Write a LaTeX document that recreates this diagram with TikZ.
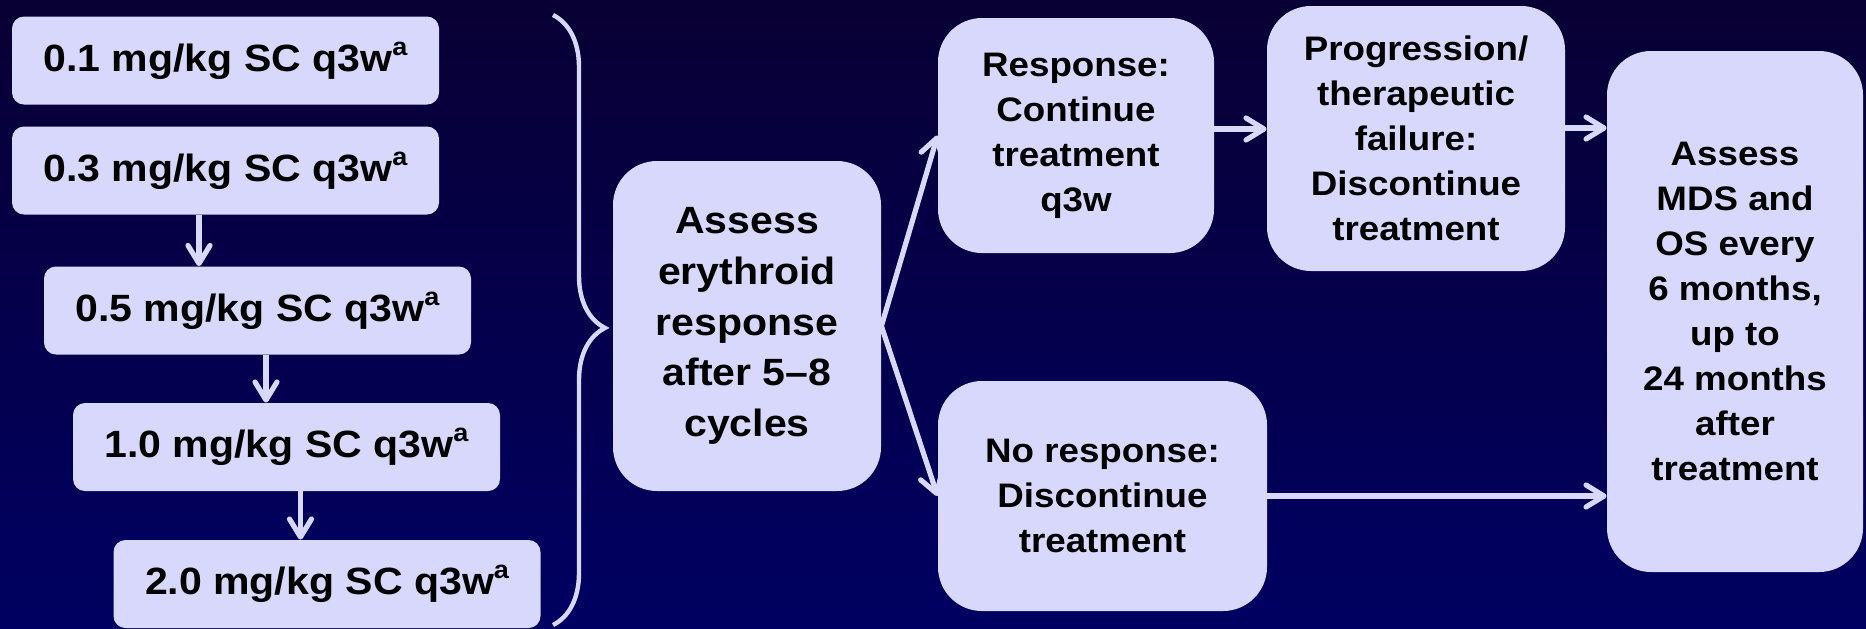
\documentclass[tikz,border=0pt]{standalone}
\usepackage{fontspec}
\setmainfont{Liberation Sans}[FakeStretch=1.08]
\usetikzlibrary{arrows.meta, decorations.pathreplacing}
\definecolor{boxfill}{RGB}{216,216,252}
\definecolor{bgtop}{RGB}{8,0,52}
\definecolor{bgbottom}{RGB}{0,0,98}
\newcommand{\dose}[1]{#1 mg/kg SC q3w\raisebox{0.42em}{\fontsize{12.5}{12.5}\selectfont a}}

\begin{document}
\begin{tikzpicture}[x=0.5pt, y=-0.5pt,
dose/.style={rectangle, rounded corners=6pt, fill=boxfill, inner sep=0pt,
minimum width=213.5pt, minimum height=44pt, font=\fontsize{19}{23}\selectfont\bfseries},
block/.style={rectangle, rounded corners=22pt, fill=boxfill, inner sep=0pt, align=center,
font=\fontsize{17}{22.5}\selectfont\bfseries},
block-big/.style={block, font=\fontsize{19}{25.3}\selectfont\bfseries},
line/.style={draw=boxfill, line width=2.6pt, -{Straight Barb[length=9pt, width=11pt, round]}},
brace/.style={draw=boxfill, line width=2.2pt, decorate,
decoration={brace, amplitude=26pt, aspect=0.513}}
]
\shade [top color=bgtop, bottom color=bgbottom] (0,0) rectangle (1866,628);
\useasboundingbox (0,0) rectangle (1866,628);

\node [dose] (d1) at (225.5,60.5) {\dose{0.1}};
\node [dose] (d2) at (225.5,170.5) {\dose{0.3}};
\node [dose] (d3) at (257.5,310.5) {\dose{0.5}};
\node [dose] (d4) at (286.5,447) {\dose{1.0}};
\node [dose] (d5) at (327,584) {\dose{2.0}};

\node [block-big, minimum width=134pt, minimum height=165pt] (assess) at (747,326)
{Assess\\erythroid\\response\\after 5–8\\cycles};
\node [block, minimum width=138pt, minimum height=117.5pt] (resp) at (1076,135.5)
{Response:\\Continue\\treatment\\q3w};
\node [block, minimum width=149pt, minimum height=132.5pt] (prog) at (1416,138.5)
{Progression/\\therapeutic\\failure:\\Discontinue\\treatment};
\node [block, minimum width=164.5pt, minimum height=115pt] (noresp) at (1102.5,496)
{No response:\\Discontinue\\treatment};
\node [block, minimum width=128pt, minimum height=260.5pt] (mds) at (1735,311.5)
{Assess\\MDS and\\OS every\\6 months,\\up to\\24 months\\after\\treatment};

\coordinate (a1) at (199,0);
\coordinate (a2) at (266,0);
\coordinate (a3) at (300.5,0);
\coordinate (a4) at (0,129);
\coordinate (a5) at (0,128);
\coordinate (bt) at (553,15);
\coordinate (bb) at (553,625);

\path [line] (d2.south -| a1) -- (d3.north -| a1);
\path [line] (d3.south -| a2) -- (d4.north -| a2);
\path [line] (d4.south -| a3) -- (d5.north -| a3);
\path [brace] (bt) -- (bb);
\path [line] (assess.east) -- (resp.west);
\path [line] (assess.east) -- (noresp.west);
\path [line] (resp.east |- a4) -- (prog.west |- a4);
\path [line] (prog.east |- a5) -- (mds.west |- a5);
\path [line] (noresp.east) -- (noresp.east -| mds.west);
\end{tikzpicture}
\end{document}
